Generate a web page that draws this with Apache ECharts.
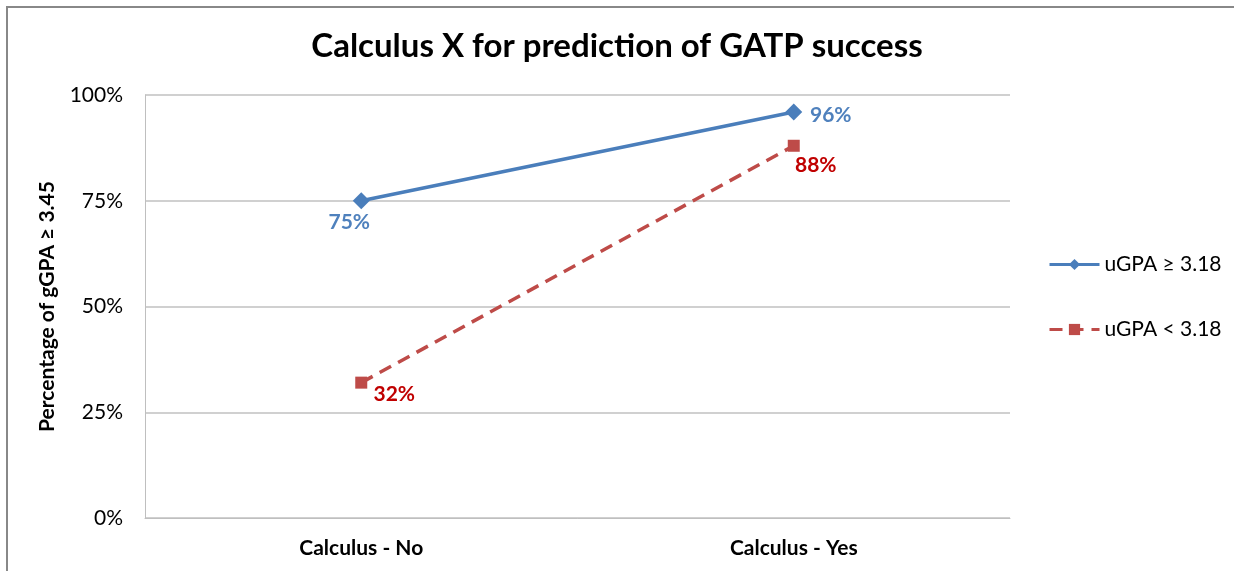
<!DOCTYPE html>
<html>
<head>
<meta charset="utf-8">
<script src="https://cdn.jsdelivr.net/npm/echarts@6/dist/echarts.min.js"></script>
<style>
  html, body { margin: 0; padding: 0; background: #fff; }
  #chart { width: 1234px; height: 571px; }
</style>
</head>
<body>
<div id="chart"></div>
<script>
const categories = ['Calculus - No', 'Calculus - Yes']
const seriesNames = ['uGPA \u2265 3.18', 'uGPA < 3.18']
const highGpa = [75, 96]
const lowGpa = [32, 88]
const yTicks = [0, 25, 50, 75, 100]

// label offsets from the marker centre
const highOffsets = [[-12, 21], [37, 3]]
const lowOffsets = [[33, 12], [22, 19]]

const FONT = 'Lato, "Open Sans", sans-serif'

const chart = echarts.init(document.getElementById('chart'))

function points(values, offsets, color) {
  return values.map((v, i) => ({
    value: v,
    label: { offset: offsets[i], color: color }
  }))
}

chart.setOption({
  backgroundColor: '#fff',
  animation: false,
  textStyle: { fontFamily: FONT },
  title: {
    text: 'Calculus X for prediction of GATP success',
    left: 'center',
    top: 25,
    textStyle: { fontSize: 33, fontWeight: 'bold', color: '#000', fontFamily: FONT }
  },
  graphic: [
    {
      type: 'rect',
      shape: { x: 7, y: 7, width: 1400, height: 800 },
      style: { fill: 'none', stroke: '#888', lineWidth: 2 },
      silent: true
    }
  ],
  legend: {
    orient: 'vertical',
    left: 1043,
    top: 249,
    itemWidth: 50,
    itemHeight: 14,
    itemGap: 44,
    lineStyle: { width: 3 },
    textStyle: { fontSize: 21, color: '#000', fontFamily: FONT },
    data: seriesNames
  },
  grid: { left: 145, right: 224, top: 95, bottom: 53 },
  xAxis: {
    type: 'category',
    data: categories,
    boundaryGap: true,
    axisLine: { show: true, lineStyle: { color: '#bfbfbf', width: 1 } },
    axisTick: { show: false },
    axisLabel: { fontSize: 21, fontWeight: 'bold', color: '#000', margin: 20 }
  },
  yAxis: {
    type: 'value',
    min: yTicks[0],
    max: yTicks[yTicks.length - 1],
    interval: 25,
    name: 'Percentage of gGPA \u2265 3.45',
    nameLocation: 'middle',
    nameGap: 87,
    nameTextStyle: { fontSize: 21, fontWeight: 'bold', color: '#000' },
    axisLine: { show: true, lineStyle: { color: '#bfbfbf', width: 1 } },
    axisTick: { show: false },
    axisLabel: { fontSize: 21, color: '#000', margin: 22, formatter: '{value}%' },
    splitLine: { lineStyle: { color: '#c0c0c0', width: 1.5 } }
  },
  series: [
    {
      name: seriesNames[0],
      type: 'line',
      data: points(highGpa, highOffsets, '#4f81bd'),
      symbol: 'diamond',
      symbolSize: 17,
      itemStyle: { color: '#4a7ebb' },
      lineStyle: { color: '#4a7ebb', width: 3.5 },
      label: {
        show: true,
        position: 'inside',
        fontSize: 21,
        fontWeight: 'bold',
        formatter: '{c}%'
      }
    },
    {
      name: seriesNames[1],
      type: 'line',
      data: points(lowGpa, lowOffsets, '#c00000'),
      symbol: 'rect',
      symbolSize: 12,
      itemStyle: { color: '#be4b48' },
      lineStyle: { color: '#be4b48', width: 3.5, type: [13, 8] },
      label: {
        show: true,
        position: 'inside',
        fontSize: 21,
        fontWeight: 'bold',
        formatter: '{c}%'
      }
    }
  ]
})
</script>
</body>
</html>
